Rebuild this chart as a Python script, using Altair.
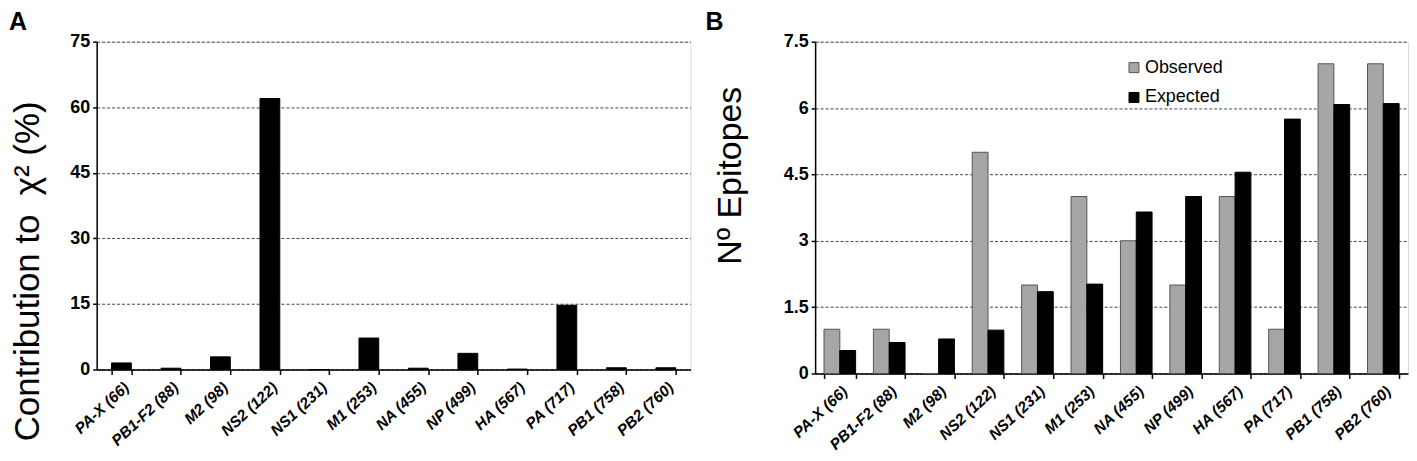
import altair as alt
import pandas as pd

categories = ["PA-X (66)", "PB1-F2 (88)", "M2 (98)", "NS2 (122)", "NS1 (231)", "M1 (253)",
              "NA (455)", "NP (499)", "HA (567)", "PA (717)", "PB1 (758)", "PB2 (760)"]
chi_contribution = [1.5, 0.3, 2.9, 62.0, 0.0, 7.2, 0.3, 3.7, 0.1, 14.7, 0.4, 0.4]
observed = [1, 1, 0, 5, 2, 4, 3, 2, 4, 1, 7, 7]
expected = [0.52, 0.70, 0.78, 0.98, 1.85, 2.02, 3.65, 4.00, 4.55, 5.75, 6.08, 6.10]
series = ["Observed", "Expected"]
ticks_a = [0, 15, 30, 45, 60, 75]
ticks_b = [0, 1.5, 3, 4.5, 6, 7.5]

FONT = "Liberation Sans, Arial, sans-serif"

df_a = pd.DataFrame({"segment": categories, "chi": chi_contribution})
rows = []
for c, o, e in zip(categories, observed, expected):
    rows.append({"segment": c, "series": "Observed", "value": o})
    rows.append({"segment": c, "series": "Expected", "value": e})
df_b = pd.DataFrame(rows)


def x_axis():
    return alt.Axis(title=None, labelAngle=-43, labelAlign="right", labelBaseline="top",
                    labelFontSize=15.5, labelFontWeight="bold", labelFontStyle="italic",
                    labelFont=FONT, labelColor="black", tickBand="extent", tickSize=5,
                    tickColor="black", tickWidth=1.5, labelPadding=5, domainColor="black",
                    domainWidth=1.5, grid=False, labelOverlap=False)


def y_axis(values, title, tx, ty, size):
    return alt.Axis(values=values, title=title, labelExpr="'' + datum.value", titleFont=FONT,
                    titleFontSize=size, titleFontWeight="normal", titleColor="black",
                    titleX=tx, titleY=ty, titleAlign="center", titleBaseline="alphabetic",
                    titleAngle=-90, labelFont=FONT, labelFontSize=18, labelFontWeight="bold",
                    labelColor="black", labelPadding=3, tickSize=4, tickColor="black",
                    tickWidth=1.5, domainColor="black", domainWidth=1.5, grid=True,
                    gridDash=[3, 2], gridColor="#444444", gridWidth=1)


def legend():
    return alt.Legend(title=None, orient="none", legendX=1032, legendY=17, symbolType="square",
                      symbolSize=100, symbolStrokeWidth=1, labelFont=FONT, labelFontSize=18,
                      labelColor="black", rowPadding=12, labelOffset=2, padding=0)


chart_a = alt.Chart(df_a).mark_bar(color="black", stroke="black", strokeWidth=1).encode(
    x=alt.X("segment:N", sort=categories,
            scale=alt.Scale(paddingInner=0.6, paddingOuter=0.3), axis=x_axis()),
    y=alt.Y("chi:Q", scale=alt.Scale(domain=[0, 75], nice=False),
            axis=y_axis(ticks_a, "Contribution to\u00a0 χ² (%)", -58, 230, 35)),
).properties(
    width=596, height=329,
    title=alt.TitleParams("A", anchor="start", frame="group", fontSize=25, fontWeight="bold",
                          font=FONT, color="black", dx=-88, offset=-2),
)

chart_b = alt.Chart(df_b).mark_bar(strokeWidth=1).encode(
    x=alt.X("segment:N", sort=categories,
            scale=alt.Scale(paddingInner=0.36, paddingOuter=0.18), axis=x_axis()),
    xOffset=alt.XOffset("series:N", sort=series,
                        scale=alt.Scale(domain=series, paddingInner=0, paddingOuter=0)),
    y=alt.Y("value:Q", scale=alt.Scale(domain=[0, 7.5], nice=False),
            axis=y_axis(ticks_b, "Nº Epitopes", -75, 134, 34)),
    fill=alt.Fill("series:N", sort=series,
                  scale=alt.Scale(domain=series, range=["#a6a6a6", "#000000"]),
                  legend=legend()),
    stroke=alt.Stroke("series:N", sort=series,
                      scale=alt.Scale(domain=series, range=["#555555", "#000000"]),
                      legend=legend()),
).properties(
    width=595, height=333,
    title=alt.TitleParams("B", anchor="start", frame="group", fontSize=25, fontWeight="bold",
                          font=FONT, color="black", dx=-110, offset=-2),
)

chart = alt.hconcat(chart_a, chart_b, spacing=125, bounds="flush", padding=0).configure_view(
    stroke=None
).configure(font=FONT, background="white")

chart.save("out.html", embed_options={"renderer": "svg", "actions": False})
